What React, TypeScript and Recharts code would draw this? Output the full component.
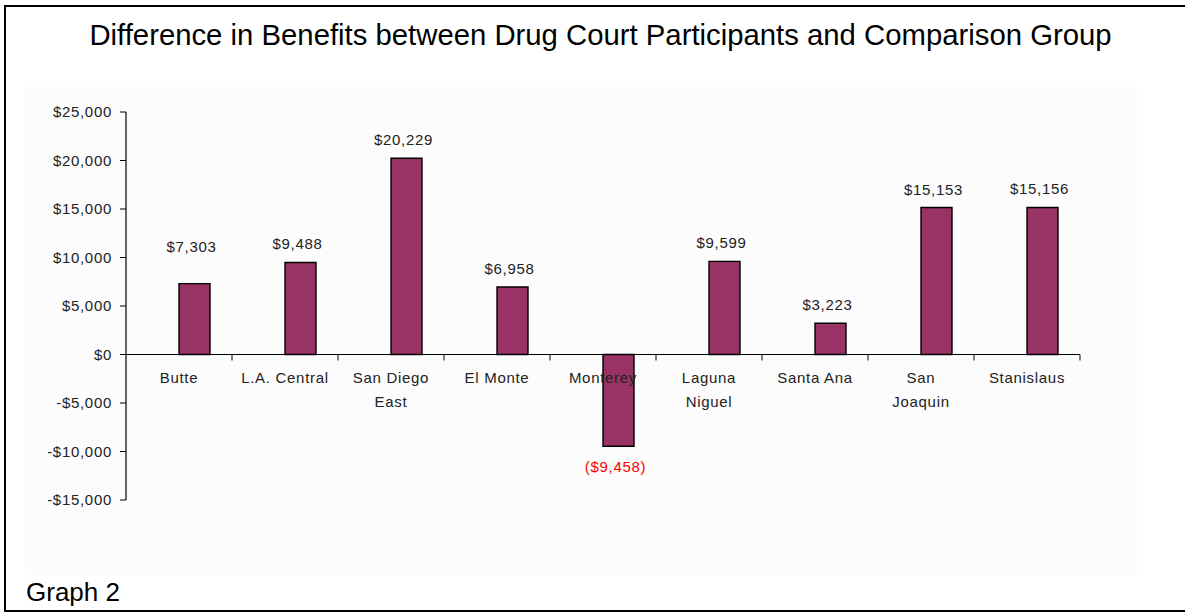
import { BarChart, Bar, XAxis, YAxis, ReferenceLine, LabelList } from 'recharts';

const courts = [
  'Butte',
  'L.A. Central',
  'San Diego\nEast',
  'El Monte',
  'Monterey',
  'Laguna\nNiguel',
  'Santa Ana',
  'San\nJoaquin',
  'Stanislaus',
];
const benefitDiff = [7303, 9488, 20229, 6958, -9458, 9599, 3223, 15153, 15156];
const yTicks = [-15000, -10000, -5000, 0, 5000, 10000, 15000, 20000, 25000];

const data = courts.map((name, i) => ({ name, spacer: null, diff: benefitDiff[i] }));

const FONT = '"Liberation Sans", Arial, sans-serif';
const W = 1185;
const H = 613;
const margin = { top: 112, right: 105, bottom: 83, left: 46 };
const Y_AXIS_W = 80;
const X_AXIS_H = 30;
const Y_MIN = -15000;
const Y_MAX = 25000;

const plotLeft = margin.left + Y_AXIS_W;
const plotW = W - margin.right - plotLeft;
const plotH = H - margin.top - margin.bottom - X_AXIS_H;
// pixel row of the zero line, taken from the linear y scale
const zeroY = margin.top + (plotH * Y_MAX) / (Y_MAX - Y_MIN);
const bandW = plotW / courts.length;

const small = { fontFamily: FONT, fontSize: 15, letterSpacing: 0.7, fill: '#222' };

const money = (v: number) =>
  v < 0 ? `-$${Math.abs(v).toLocaleString('en-US')}` : `$${v.toLocaleString('en-US')}`;

function CourtTick(props: any) {
  const { x, payload } = props;
  const lines = String(payload.value).split('\n');
  return (
    <g>
      <line x1={x + bandW / 2} x2={x + bandW / 2} y1={zeroY} y2={zeroY + 6} stroke="#000" />
      {lines.map((ln, i) => (
        <text key={i} x={x} y={zeroY + 28.5 + i * 24} textAnchor="middle" {...small}>
          {ln}
        </text>
      ))}
    </g>
  );
}

function ValueLabel(props: any) {
  const { x, y, width, height, value, index } = props;
  if (value == null) return null;
  const cx = x + width / 2 - 3;
  const top = Math.min(y, y + height);
  const bottom = Math.max(y, y + height);
  if (value < 0) {
    return (
      <text x={cx} y={bottom + 26} textAnchor="middle" {...small} fill="#ff0000">
        {`($${Math.abs(value).toLocaleString('en-US')})`}
      </text>
    );
  }
  // the Butte label sits higher in the original
  const lift = index === 0 ? 32 : 13;
  return (
    <text x={cx} y={top - lift} textAnchor="middle" {...small}>
      {money(value)}
    </text>
  );
}

export default function App() {
  return (
    <div style={{ position: 'absolute', left: 0, top: 0, width: W, height: H, overflow: 'hidden', background: '#fff' }}>
      <div
        style={{
          position: 'absolute',
          left: 4,
          top: 5,
          width: 1220,
          height: 603,
          borderLeft: '2px solid #000',
          borderTop: '2px solid #000',
          borderBottom: '2px solid #000',
        }}
      />
      <div style={{ position: 'absolute', left: 25, top: 87, width: 1112, height: 488, background: '#fcfcfc' }} />
      <div
        style={{
          position: 'absolute',
          left: 0,
          top: 19.5,
          width: 1201,
          textAlign: 'center',
          fontFamily: FONT,
          fontSize: 29.3,
          lineHeight: '29px',
          color: '#000',
          whiteSpace: 'nowrap',
        }}
      >
        Difference in Benefits between Drug Court Participants and Comparison Group
      </div>
      <div
        style={{
          position: 'absolute',
          left: 26,
          top: 579,
          fontFamily: FONT,
          fontSize: 26,
          lineHeight: '26px',
          color: '#000',
        }}
      >
        Graph 2
      </div>
      <div style={{ position: 'absolute', left: 0, top: 0 }}>
        <BarChart width={W} height={H} data={data} margin={margin} barSize={31} barGap={0}>
          <XAxis
            dataKey="name"
            height={X_AXIS_H}
            axisLine={false}
            tickLine={false}
            interval={0}
            tick={(p: any) => <CourtTick {...p} />}
          />
          <YAxis
            width={Y_AXIS_W}
            domain={[Y_MIN, Y_MAX]}
            ticks={yTicks}
            interval={0}
            tickFormatter={money}
            axisLine={{ stroke: '#000', strokeWidth: 1.2 }}
            tickLine={{ stroke: '#000' }}
            tickSize={6}
            tickMargin={8}
            tick={small}
          />
          <ReferenceLine y={0} stroke="#000" strokeWidth={1.2} />
          <Bar dataKey="spacer" fill="none" isAnimationActive={false} />
          <Bar dataKey="diff" fill="#993366" stroke="#000" strokeWidth={1.4} isAnimationActive={false}>
            <LabelList dataKey="diff" content={(p: any) => <ValueLabel {...p} />} />
          </Bar>
        </BarChart>
      </div>
    </div>
  );
}
